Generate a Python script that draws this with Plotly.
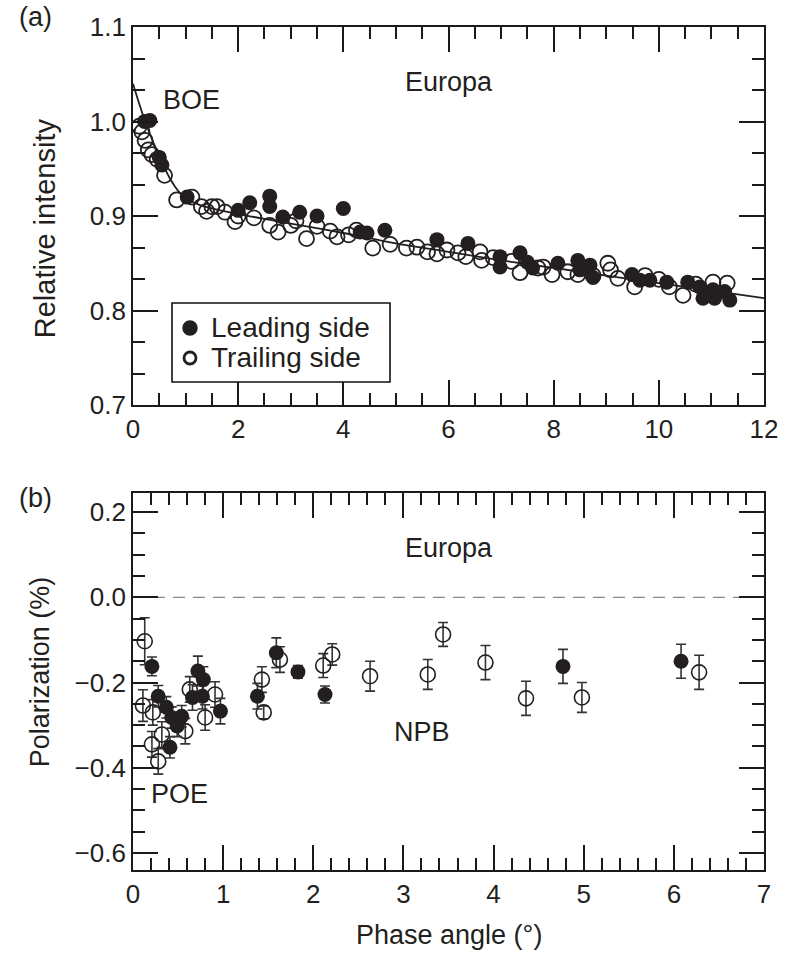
import plotly.graph_objects as go

# ---------------- Panel (a): relative intensity vs phase angle ----------------
lead_phase = [0.22, 0.32, 0.50, 0.55, 1.03, 2.00, 2.22, 2.60, 2.60, 2.85, 3.17, 3.50,
              4.00, 4.32, 4.45, 4.79, 5.78, 6.37, 6.98, 6.98, 7.36, 7.50, 7.60, 8.08,
              8.46, 8.50, 8.69, 8.75, 9.49, 9.64, 9.83, 10.15, 10.55, 10.78, 10.84,
              11.03, 11.06, 11.25, 11.35]
lead_int = [1.000, 1.001, 0.962, 0.954, 0.920, 0.906, 0.914, 0.921, 0.910, 0.899, 0.904,
            0.900, 0.908, 0.883, 0.882, 0.885, 0.875, 0.871, 0.857, 0.846, 0.861, 0.851,
            0.845, 0.850, 0.853, 0.843, 0.848, 0.835, 0.838, 0.832, 0.832, 0.830, 0.830,
            0.825, 0.813, 0.822, 0.813, 0.820, 0.811]

trail_phase = [0.12, 0.17, 0.23, 0.29, 0.36, 0.46, 0.60, 0.83, 1.12, 1.30, 1.40, 1.50,
               1.60, 1.75, 1.94, 2.00, 2.30, 2.60, 2.76, 3.00, 3.10, 3.30, 3.50, 3.75,
               3.88, 4.10, 4.25, 4.56, 4.89, 5.20, 5.40, 5.60, 5.78, 5.97, 6.18, 6.33,
               6.60, 6.63, 6.85, 7.20, 7.36, 7.70, 7.80, 7.97, 8.27, 8.46, 8.75, 9.03,
               9.08, 9.22, 9.54, 9.74, 10.00, 10.20, 10.46, 10.70, 11.03, 11.30]
trail_int = [0.995, 0.989, 0.980, 0.970, 0.965, 0.960, 0.943, 0.917, 0.920, 0.910, 0.905,
             0.910, 0.910, 0.904, 0.894, 0.900, 0.898, 0.890, 0.883, 0.890, 0.895, 0.876,
             0.889, 0.884, 0.878, 0.880, 0.885, 0.866, 0.870, 0.866, 0.867, 0.862, 0.860,
             0.864, 0.861, 0.857, 0.862, 0.853, 0.856, 0.852, 0.840, 0.845, 0.846, 0.838,
             0.841, 0.838, 0.837, 0.850, 0.843, 0.834, 0.825, 0.837, 0.833, 0.825, 0.816,
             0.828, 0.830, 0.829]

fit_phase = [0.0, 0.1, 0.2, 0.3, 0.4, 0.5, 0.6, 0.7, 0.8, 0.9, 1.0, 1.25, 1.5, 2.0, 2.5,
             3.0, 4.0, 5.0, 6.0, 7.0, 8.0, 9.0, 10.0, 11.0, 12.0]
fit_int = [1.040, 1.022, 1.005, 0.990, 0.976, 0.963, 0.951, 0.940, 0.931, 0.924, 0.919,
           0.912, 0.908, 0.902, 0.897, 0.892, 0.882, 0.871, 0.862, 0.853, 0.845, 0.837,
           0.829, 0.821, 0.813]

# ---------------- Panel (b): polarization vs phase angle ----------------
pol_lead_phase = [0.21, 0.28, 0.37, 0.43, 0.49, 0.54, 0.41, 0.66, 0.72, 0.78, 0.77, 0.97,
                  1.38, 1.59, 1.83, 2.13, 4.77, 6.08]
pol_lead = [-0.162, -0.232, -0.258, -0.282, -0.302, -0.279, -0.352, -0.235, -0.173,
            -0.193, -0.232, -0.267, -0.232, -0.130, -0.175, -0.228, -0.162, -0.150]
pol_lead_err = [0.022, 0.025, 0.025, 0.025, 0.025, 0.025, 0.025, 0.030, 0.035, 0.030,
                0.030, 0.030, 0.030, 0.035, 0.015, 0.020, 0.040, 0.040]

pol_trail_phase = [0.13, 0.11, 0.22, 0.32, 0.21, 0.28, 0.58, 0.63, 0.80, 0.91, 1.43, 1.45,
                   1.63, 2.11, 2.21, 2.63, 3.27, 3.44, 3.91, 4.36, 4.98, 6.28]
pol_trail = [-0.103, -0.254, -0.270, -0.322, -0.345, -0.385, -0.314, -0.216, -0.282,
             -0.228, -0.193, -0.270, -0.146, -0.160, -0.134, -0.185, -0.181, -0.087,
             -0.153, -0.237, -0.235, -0.176]
pol_trail_err = [0.055, 0.037, 0.030, 0.030, 0.030, 0.030, 0.030, 0.030, 0.030, 0.030,
                 0.030, 0.015, 0.030, 0.028, 0.025, 0.035, 0.035, 0.028, 0.040, 0.040,
                 0.035, 0.040]

legend_labels = ["Leading side", "Trailing side"]

INK = "#231f20"
AXC = "#1a1a1a"
FONT = "Liberation Sans, Arial, Helvetica, sans-serif"
MSIZE = 15

fig = go.Figure()

# (a) fitted phase curve
fig.add_trace(go.Scatter(x=fit_phase, y=fit_int, mode="lines",
                         line=dict(color=INK, width=1.8, shape="spline"),
                         showlegend=False, xaxis="x", yaxis="y", hoverinfo="skip"))
# (a) trailing side (open) below leading side (filled)
fig.add_trace(go.Scatter(x=trail_phase, y=trail_int, mode="markers", name=legend_labels[1],
                         marker=dict(symbol="circle-open", size=MSIZE, color=INK,
                                     line=dict(width=1.8, color=INK)),
                         showlegend=False, xaxis="x", yaxis="y"))
fig.add_trace(go.Scatter(x=lead_phase, y=lead_int, mode="markers", name=legend_labels[0],
                         marker=dict(symbol="circle", size=MSIZE, color=INK),
                         showlegend=False, xaxis="x", yaxis="y"))

# (b) polarization with error bars
fig.add_trace(go.Scatter(x=pol_trail_phase, y=pol_trail, mode="markers", showlegend=False,
                         marker=dict(symbol="circle-open", size=MSIZE, color=INK,
                                     line=dict(width=1.6, color=INK)),
                         error_y=dict(type="data", array=pol_trail_err, visible=True, color="#333333",
                                      thickness=1.6, width=5),
                         xaxis="x2", yaxis="y2"))
fig.add_trace(go.Scatter(x=pol_lead_phase, y=pol_lead, mode="markers", showlegend=False,
                         marker=dict(symbol="circle", size=MSIZE, color=INK),
                         error_y=dict(type="data", array=pol_lead_err, visible=True, color="#333333",
                                      thickness=1.6, width=5),
                         xaxis="x2", yaxis="y2"))

minor_style = dict(ticks="inside", ticklen=12, tickwidth=1.8, tickcolor=AXC, showgrid=False)
# frame on all four sides with major and minor ticks mirrored onto top / right
main_axis = dict(showline=True, linecolor=AXC, linewidth=1.8, mirror="ticks",
                 ticks="inside", ticklen=25, tickwidth=1.8, tickcolor=AXC,
                 showgrid=False, zeroline=False, layer="above traces",
                 tickfont=dict(family=FONT, size=26, color=INK))

fig.update_layout(
    width=789, height=956,
    margin=dict(l=133, r=25, t=27, b=86),
    paper_bgcolor="white", plot_bgcolor="white",
    font=dict(family=FONT, color=INK),
    showlegend=False,
    xaxis=dict(domain=[0, 1], anchor="y", range=[0, 12], dtick=2, tick0=0,
               minor=dict(dtick=0.5, **minor_style), **main_axis),
    yaxis=dict(domain=[0.5516, 1], anchor="x", range=[0.7, 1.1], dtick=0.1, tick0=0.7,
               tickformat=".1f", minor=dict(dtick=0.1 / 3, tick0=0.7, **minor_style), **main_axis),
    xaxis2=dict(domain=[0, 1], anchor="y2", range=[0, 7], dtick=1, tick0=0,
                minor=dict(dtick=0.2, **minor_style), **main_axis),
    yaxis2=dict(domain=[0, 0.4472], anchor="x2", range=[-0.64, 0.245], dtick=0.2, tick0=0,
                tickformat=".1f", minor=dict(dtick=0.05, tick0=0, **minor_style), **main_axis),
)

# zero reference line in panel (b)
fig.add_shape(type="line", xref="x2", yref="y2", x0=0, x1=7, y0=0, y1=0,
              line=dict(color="#888888", width=1.4, dash="12px,8px"), layer="below")


def px_x(px):
    return (px - 133) / 631


def px_y(py):
    return (870 - py) / 843


# legend box for panel (a)
fig.add_shape(type="rect", xref="paper", yref="paper",
              x0=px_x(172), x1=px_x(390), y0=px_y(382), y1=px_y(303),
              line=dict(color="#111111", width=1.6), fillcolor="white", layer="above")
fig.add_shape(type="circle", xref="paper", yref="paper",
              x0=px_x(183), x1=px_x(197), y0=px_y(335), y1=px_y(321),
              line=dict(color=INK, width=1.5), fillcolor=INK, layer="above")
fig.add_shape(type="circle", xref="paper", yref="paper",
              x0=px_x(184), x1=px_x(196), y0=px_y(364), y1=px_y(352),
              line=dict(color=INK, width=2.8), fillcolor="white", layer="above")
for label, py in zip(legend_labels, [328, 358]):
    fig.add_annotation(text=label, x=px_x(209), y=px_y(py), xref="paper", yref="paper",
                       xanchor="left", yanchor="middle", showarrow=False,
                       font=dict(family=FONT, size=28, color=INK))

ann = [
    dict(text="(a)", x=-0.155, y=1.012, xref="paper", yref="paper", size=27),
    dict(text="(b)", x=-0.155, y=0.4413, xref="paper", yref="paper", size=27),
    dict(text="BOE", x=1.12, y=1.0228, xref="x", yref="y", size=27),
    dict(text="Europa", x=6.0, y=1.0418, xref="x", yref="y", size=27),
    dict(text="Europa", x=3.51, y=0.117, xref="x2", yref="y2", size=27),
    dict(text="NPB", x=3.21, y=-0.315, xref="x2", yref="y2", size=27),
    dict(text="POE", x=0.52, y=-0.462, xref="x2", yref="y2", size=27),
    dict(text="Relative intensity", x=-0.139, y=0.7616, xref="paper", yref="paper",
         textangle=-90, size=29),
    dict(text="Polarization (%)", x=-0.147, y=0.2349, xref="paper", yref="paper",
         textangle=-90, size=27),
    dict(text="Phase angle (°)", x=0.5, y=-0.0771, xref="paper", yref="paper", size=27),
]
for a in ann:
    size = a.pop("size")
    fig.add_annotation(showarrow=False, xanchor="center", yanchor="middle",
                       font=dict(family=FONT, size=size, color=INK), **a)

fig.write_html("out.html")
